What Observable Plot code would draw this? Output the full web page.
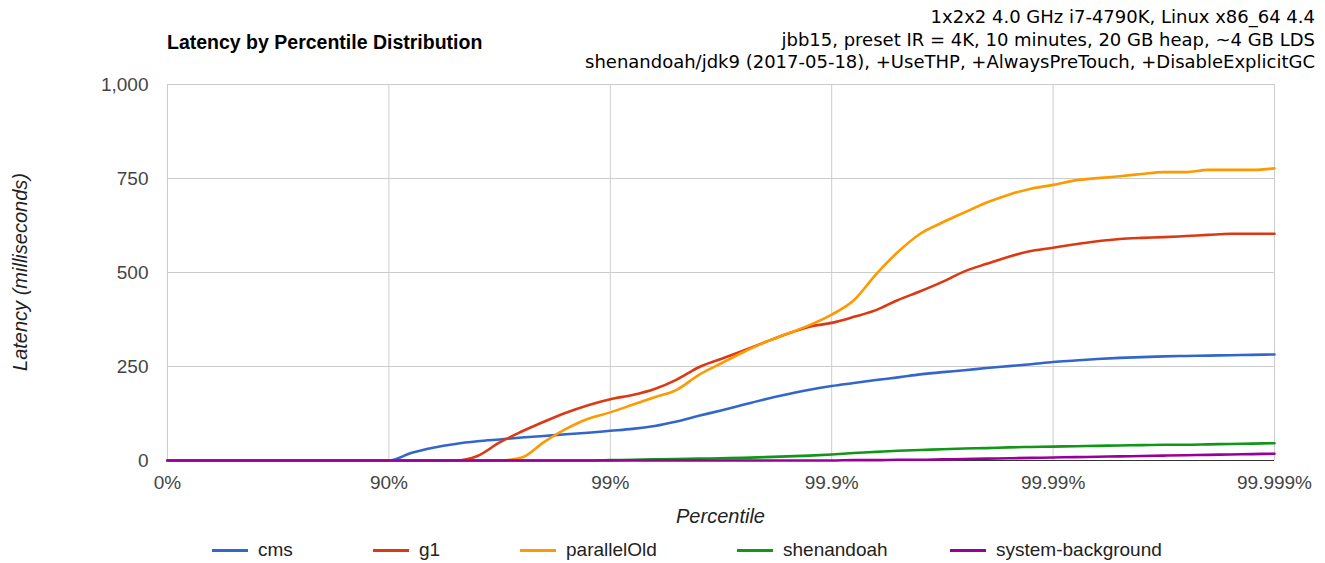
<!DOCTYPE html>
<html><head><meta charset="utf-8">
<script src="https://cdn.jsdelivr.net/npm/d3@7"></script>
<script src="https://cdn.jsdelivr.net/npm/@observablehq/plot@0.6"></script>
<style>
body{margin:0;background:#fff;}
#wrap{position:relative;width:1325px;height:563px;font-family:"Liberation Sans",Arial,sans-serif;overflow:hidden;}
#title{position:absolute;left:167px;top:31px;font-weight:bold;font-size:19.5px;color:#000;white-space:nowrap;}
#sub{position:absolute;right:10px;top:6px;text-align:right;font-family:"DejaVu Sans",sans-serif;font-size:18px;line-height:22.5px;color:#000;white-space:nowrap;}
#xlab{position:absolute;left:0;width:1441px;top:505px;text-align:center;font-style:italic;font-size:20px;color:#222;}
#ylab{position:absolute;left:20px;top:272px;transform:translate(-50%,-50%) rotate(-90deg);font-style:italic;font-size:20px;color:#222;white-space:nowrap;}
#legend{position:absolute;left:0;top:539px;width:1325px;height:24px;font-size:19px;color:#222;white-space:nowrap;}
.item{position:absolute;top:0;display:flex;align-items:center;}
.sw{width:36px;height:3px;margin-right:10px;}
#chart{position:absolute;left:0;top:0;}
</style></head><body><div id="wrap">
<div id="chart"></div>
<div id="title">Latency by Percentile Distribution</div>
<div id="sub">1x2x2 4.0 GHz i7-4790K, Linux x86_64 4.4<br>jbb15, preset IR = 4K, 10 minutes, 20 GB heap, ~4 GB LDS<br>shenandoah/jdk9 (2017-05-18), +UseTHP, +AlwaysPreTouch, +DisableExplicitGC</div>
<div id="xlab">Percentile</div>
<div id="ylab">Latency (milliseconds)</div>
<div id="legend"></div>
</div>
<script>
// x position = number of nines, -log10(1 - percentile)
const nines = [0,0.1,0.2,0.3,0.4,0.5,0.6,0.7,0.8,0.9,
  1.0,1.1,1.2,1.3,1.4,1.5,1.6,1.7,1.8,1.9,
  2.0,2.1,2.2,2.3,2.4,2.5,2.6,2.7,2.8,2.9,
  3.0,3.1,3.2,3.3,3.4,3.5,3.6,3.7,3.8,3.9,
  4.0,4.1,4.2,4.3,4.4,4.5,4.6,4.7,4.8,4.9,5.0];
const cms = [0,0,0,0,0,0,0,0,0,0,
  0,20,34,44,51,56,61,65,70,74,
  79,84,92,104,119,133,148,163,176,188,
  198,206,214,221,229,235,240,246,251,256,
  262,266,270,273,275,277,278,279,280,281,282];
const g1 = [0,0,0,0,0,0,0,0,0,0,
  0,0,0,0,12,48,77,103,127,147,
  163,174,190,215,248,270,292,315,337,356,
  366,382,400,427,450,475,503,523,542,557,
  566,575,583,589,592,594,597,600,603,603,603];
const parallelOld = [0,0,0,0,0,0,0,0,0,0,
  0,0,0,0,0,0,8,49,84,111,
  128,148,168,188,228,258,288,315,337,360,
  388,426,495,555,603,633,660,686,707,723,
  733,745,751,756,762,767,767,773,773,773,777];
const shenandoah = [0,0,0,0,0,0,0,0,0,0,
  0,0,0,0,0,0,0,0,0,0,
  1,2,3,4,5,6,7,9,11,13,
  16,20,23,26,28,30,32,33,35,36,
  37,38,39,40,41,42,42,43,44,45,46];
const systemBackground = [0,0,0,0,0,0,0,0,0,0,
  0,0,0,0,0,0,0,0,0,0,
  0,0,0,0,0,0,0,0,0,0,
  0,1,1,2,2,3,4,5,6,7,
  8,9,10,11,12,13,14,15,16,17,18];

const seriesNames = ["cms","g1","parallelOld","shenandoah","system-background"];
const seriesValues = [cms, g1, parallelOld, shenandoah, systemBackground];
const seriesColors = ["#3366cc","#dc3912","#ff9900","#109618","#990099"];
const xTicks = [0,1,2,3,4,5];
const xTickLabels = ["0%","90%","99%","99.9%","99.99%","99.999%"];
const yTicks = [0,250,500,750,1000];
const legendLeft = [212, 373, 520, 737, 950];

const data = seriesNames.flatMap((s, i) => seriesValues[i].map((v, j) => ({series: s, x: nines[j], y: v})));

const chart = Plot.plot({
  width: 1325, height: 563,
  marginTop: 84, marginBottom: 103, marginLeft: 167, marginRight: 51,
  style: {fontFamily: '"Liberation Sans", Arial, sans-serif', fontSize: "19px", color: "#444", background: "transparent"},
  x: {type: "linear", domain: [0, 5]},
  y: {domain: [0, 1000]},
  color: {domain: seriesNames, range: seriesColors},
  marks: [
    Plot.gridX(xTicks, {stroke: "#cccccc", strokeOpacity: 1, strokeWidth: 1}),
    Plot.gridY(yTicks, {stroke: "#cccccc", strokeOpacity: 1, strokeWidth: 1}),
    Plot.axisX(xTicks, {tickSize: 0, tickPadding: 15, tickFormat: (d, i) => xTickLabels[i], label: null}),
    Plot.axisY(yTicks, {tickSize: 0, tickPadding: 19, tickFormat: d3.format(","), label: null}),
    Plot.ruleY([0], {stroke: "#333", strokeWidth: 1}),
    Plot.line(data, {x: "x", y: "y", z: "series", stroke: "series", strokeWidth: 2.6, curve: "monotone-x"})
  ]
});
document.getElementById("chart").appendChild(chart);

const legend = document.getElementById("legend");
seriesNames.forEach((s, i) => {
  const item = document.createElement("div");
  item.className = "item";
  item.style.left = legendLeft[i] + "px";
  const sw = document.createElement("div");
  sw.className = "sw";
  sw.style.background = seriesColors[i];
  const t = document.createElement("span");
  t.textContent = s;
  item.appendChild(sw); item.appendChild(t);
  legend.appendChild(item);
});
</script>
</body></html>
